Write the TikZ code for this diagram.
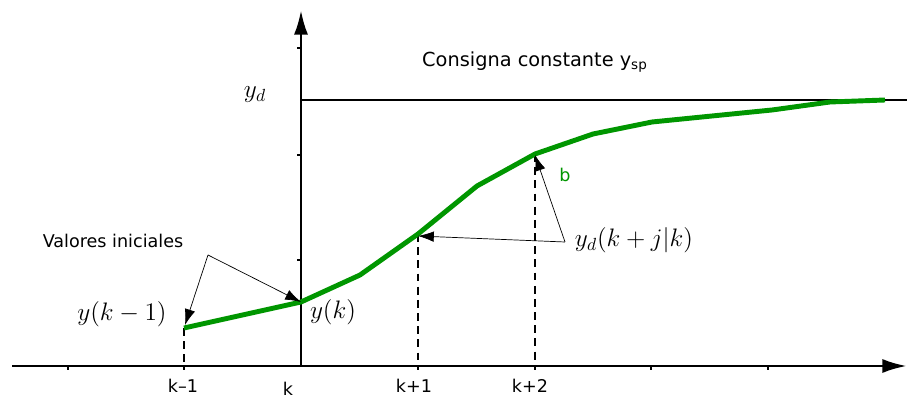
\documentclass[tikz,border=0pt]{standalone}
\usepackage{fontspec}
\setsansfont{DejaVu Sans}
\usepackage{amsmath}
\usetikzlibrary{arrows.meta, positioning, calc}
\definecolor{respgreen}{RGB}{0,150,0}
\tikzset{
	axis/.style={line width=1.7pt, -{Latex[length=14pt, width=8pt]}},
	setp/.style={line width=1.1pt},
	resp/.style={line width=2.8pt, respgreen, line join=round},
	guide/.style={line width=0.8pt, dash pattern=on 4.5pt off 3pt},
	ptr/.style={line width=0.4pt, -{Latex[length=9pt, width=6pt]}},
	axtick/.style={line width=1pt},
	lbl/.style={inner sep=0pt, font=\sffamily\fontsize{10}{12}\selectfont},
	mlbl/.style={inner sep=0pt, font=\fontsize{14}{16}\selectfont},
}

\begin{document}
\begin{tikzpicture}[x=0.02cm, y=-0.02cm]
	\useasboundingbox (0,0) rectangle (907,398);
	% axes
	\coordinate (xs) at (12,366);
	\coordinate (xe) at (907,366);
	\coordinate (o) at (301,366);
	\coordinate (ye) at (301,10);
	\draw[axis] (xs) -- (xe);
	\draw[axis] (o) -- (ye);
	\foreach \x in {68,184,418,535,651,768,884}
		\draw[axtick] (\x,366) -- (\x,370);
	\foreach \y in {48,155,260}
		\draw[axtick] (301,\y) -- (297,\y);
	
	% set point
	\coordinate (sp0) at (301,100);
	\coordinate (sp1) at (907,100);
	\draw[setp] (sp0) -- (sp1);
	\node[lbl, font=\sffamily\fontsize{11}{13}\selectfont] (cons) at (535,62) {Consigna constante y\textsubscript{sp}};
	\node[mlbl] (yd) at (255,95) {$y_d$};
	
	% response
	\coordinate (c0) at (184,328);
	\coordinate (c1) at (301,302);
	\coordinate (c2) at (360,275);
	\coordinate (c3) at (418,234);
	\coordinate (c4) at (477,186);
	\coordinate (c5) at (535,154);
	\coordinate (c6) at (593,134);
	\coordinate (c7) at (652,122);
	\coordinate (c8) at (772,110);
	\coordinate (c9) at (830,102);
	\coordinate (c10) at (885,100);
	\draw[guide] (c0) -- (c0 |- o);
	\draw[guide] (c3) -- (c3 |- o);
	\draw[guide] (c5) -- (c5 |- o);
	\draw[resp] (c0) -- (c1) -- (c2) -- (c3) -- (c4) -- (c5) -- (c6) -- (c7) -- (c8) -- (c9) -- (c10);
	
	% time labels
	\node[lbl] (km1) at (183,386) {k--1};
	\node[lbl] (k0) at (288,389) {k};
	\node[lbl] (kp1) at (414,386) {k+1};
	\node[lbl] (kp2) at (530,386) {k+2};
	
	% initial values
	\node[lbl] (ini) at (113,241) {Valores iniciales};
	\coordinate (apx1) at (208,255);
	\draw[ptr] (apx1) -- ($(c0)+(1,-3)$);
	\draw[ptr] (apx1) -- (c1);
	\node[mlbl] (ykm1) at (122,314) {$y(k-1)$};
	\node[mlbl] (yk) at (333,312) {$y(k)$};
	
	% predictions
	\node[lbl, respgreen] (b) at (565,175) {b};
	\node[mlbl] (ydp) at (634,240) {$y_d(k+j|k)$};
	\coordinate (apx2) at (565,242);
	\draw[ptr] (apx2) -- ($(c3)+(0,2)$);
	\draw[ptr] (apx2) -- ($(c5)+(0,1)$);
\end{tikzpicture}
\end{document}
